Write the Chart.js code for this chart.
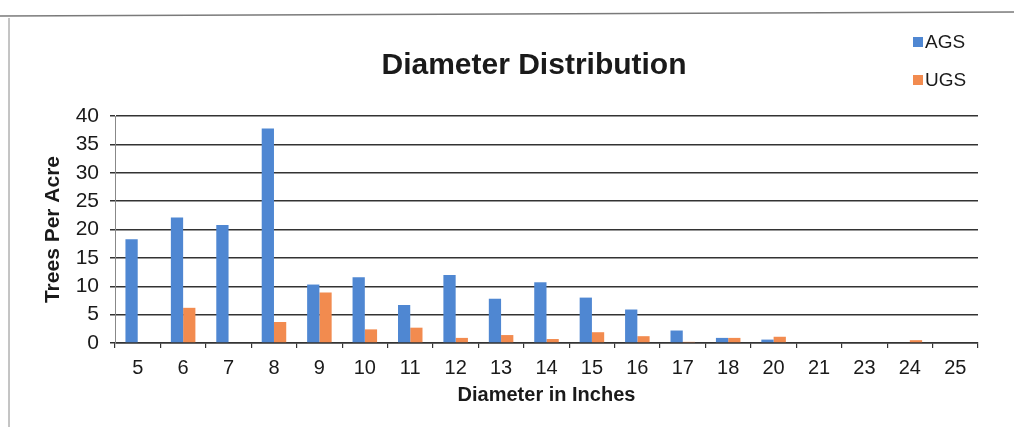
<!DOCTYPE html>
<html>
<head>
<meta charset="utf-8">
<style>
  html, body { margin: 0; padding: 0; background: #fff; }
  #wrap { position: relative; width: 1014px; height: 427px; }
</style>
<script src="https://cdn.jsdelivr.net/npm/chart.js@4.4.1/dist/chart.umd.min.js"></script>
</head>
<body>
<div id="wrap"><canvas id="chart" width="1014" height="427"></canvas></div>
<script>
// Diameter classes (inches)
const diameters = ['5', '6', '7', '8', '9', '10', '11', '12', '13', '14', '15', '16', '17', '18', '20', '21', '23', '24', '25'];
// Trees per acre, acceptable growing stock
const agsValues = [18.3, 22.1, 20.8, 37.8, 10.3, 11.6, 6.7, 12.0, 7.8, 10.7, 8.0, 5.9, 2.2, 0.9, 0.6, 0, 0, 0, 0];
// Trees per acre, unacceptable growing stock
const ugsValues = [0, 6.2, 0, 3.7, 8.9, 2.4, 2.7, 0.9, 1.4, 0.7, 1.9, 1.2, 0.2, 0.9, 1.1, 0, 0, 0.5, 0];
const yTicks = [0, 5, 10, 15, 20, 25, 30, 35, 40];

const FONT = '"Liberation Sans", Arial, sans-serif';
const BLUE = '#4f87d2';
const ORANGE = '#f28b4f';

// Page frame, chart heading and the two-row key
const decorations = {
  id: 'decorations',
  beforeDraw(chart) {
    const ctx = chart.ctx;
    ctx.save();
    ctx.fillStyle = '#ffffff';
    ctx.fillRect(0, 0, chart.width, chart.height);
    ctx.strokeStyle = '#7a7a7a';
    ctx.lineWidth = 1.5;
    ctx.beginPath();
    ctx.moveTo(0, 16);
    ctx.lineTo(chart.width, 12);
    ctx.stroke();
    ctx.strokeStyle = '#8a8a8a';
    ctx.lineWidth = 1;
    ctx.beginPath();
    ctx.moveTo(9, 18);
    ctx.lineTo(9, chart.height);
    ctx.stroke();
    ctx.restore();
  },
  afterDraw(chart) {
    const ctx = chart.ctx;
    ctx.save();
    ctx.fillStyle = '#1a1a1a';
    ctx.font = 'bold 30px ' + FONT;
    ctx.textAlign = 'center';
    ctx.textBaseline = 'middle';
    ctx.fillText('Diameter Distribution', 534, 66);

    ctx.font = '19px ' + FONT;
    ctx.textAlign = 'left';
    const rows = [42, 80];
    chart.data.datasets.forEach((ds, i) => {
      const y = rows[i];
      ctx.fillStyle = ds.backgroundColor;
      ctx.fillRect(913, y - 5, 10, 10);
      ctx.fillStyle = '#1a1a1a';
      ctx.fillText(ds.label, 925, y + 1);
    });
    ctx.restore();
  }
};

new Chart(document.getElementById('chart'), {
  type: 'bar',
  data: {
    labels: diameters,
    datasets: [
      { label: 'AGS', data: agsValues, backgroundColor: BLUE, categoryPercentage: 0.54, barPercentage: 1 },
      { label: 'UGS', data: ugsValues, backgroundColor: ORANGE, categoryPercentage: 0.54, barPercentage: 1 }
    ]
  },
  options: {
    responsive: false,
    animation: false,
    layout: { padding: { left: 0, right: 36, top: 116, bottom: 0 } },
    plugins: {
      legend: { display: false },
      title: { display: false },
      tooltip: { enabled: false }
    },
    scales: {
      x: {
        afterFit(scale) { scale.height = 84; },
        grid: { display: true, drawOnChartArea: false, offset: true, tickLength: 5, color: '#333', lineWidth: 1.2 },
        border: { color: '#333', width: 1.5 },
        ticks: { color: '#1a1a1a', font: { family: FONT, size: 20 }, padding: 8, maxRotation: 0, autoSkip: false },
        title: {
          display: true,
          text: 'Diameter in Inches',
          color: '#1a1a1a',
          font: { family: FONT, size: 20, weight: 'bold' },
          padding: { top: 0, bottom: 20 }
        }
      },
      y: {
        min: 0,
        max: 40,
        afterFit(scale) { scale.width = 115; },
        afterBuildTicks(scale) { scale.ticks = yTicks.map(v => ({ value: v })); },
        grid: { color: '#333', lineWidth: 1.5, tickLength: 5 },
        border: { color: '#888', width: 1 },
        ticks: { color: '#1a1a1a', font: { family: FONT, size: 21 }, padding: 11, autoSkip: false },
        title: {
          display: true,
          text: 'Trees Per Acre',
          color: '#1a1a1a',
          font: { family: FONT, size: 21, weight: 'bold' },
          padding: { top: 41, bottom: 0 }
        }
      }
    }
  },
  plugins: [decorations]
});
</script>
</body>
</html>
